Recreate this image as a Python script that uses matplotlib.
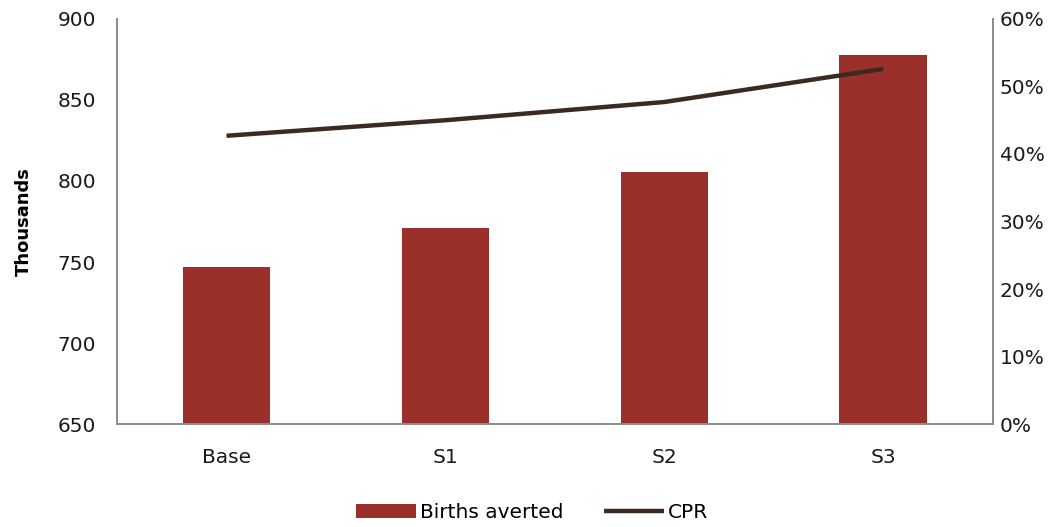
import matplotlib.pyplot as plt
import numpy as np

# values
categories = ["Base", "S1", "S2", "S3"]
births_averted = [747, 771, 805.5, 878]   # thousands
cpr = [0.427, 0.450, 0.477, 0.526]

plt.rcParams['font.family'] = ['DejaVu Sans']

fig = plt.figure(figsize=(10.64, 5.27), dpi=100)
ax = fig.add_axes([0.110, 0.1954, 0.823, 0.7686])
x = np.arange(len(categories))

bars = ax.bar(x, births_averted, width=0.4, color="#9a3029", label="Births averted", zorder=2)
ax.set_ylim(650, 900)
ax.set_yticks(range(650, 901, 50))
ax.set_xlim(-0.5, len(categories) - 0.5)
ax.set_xticks(x)
ax.set_xticklabels(categories)
ax.set_ylabel("Thousands", fontsize=13, fontweight="bold", labelpad=18)

ax2 = ax.twinx()
line, = ax2.plot(x, cpr, color="#3b2a21", lw=3.2, label="CPR", solid_capstyle="butt")
ax2.set_ylim(0, 0.6)
ax2.set_yticks(np.arange(0, 0.61, 0.1))
ax2.set_yticklabels([f"{int(round(v*100))}%" for v in np.arange(0, 0.61, 0.1)])

for a in (ax, ax2):
    a.spines['top'].set_visible(False)
    for s in ('left', 'right', 'bottom'):
        a.spines[s].set_color("#8c8c8c")
        a.spines[s].set_linewidth(1.3)
    a.tick_params(length=0, labelsize=14.5, colors="#1a1a1a")
ax.tick_params(axis='y', pad=15)
ax.tick_params(axis='x', pad=17)
ax2.tick_params(axis='y', pad=5)

fig.legend([bars, line], ["Births averted", "CPR"], loc="lower center",
           bbox_to_anchor=(0.5, -0.025), ncol=2, frameon=False, fontsize=14.5,
           handlelength=3, columnspacing=2, handletextpad=0.2)

fig.savefig("out.png", dpi=100)
